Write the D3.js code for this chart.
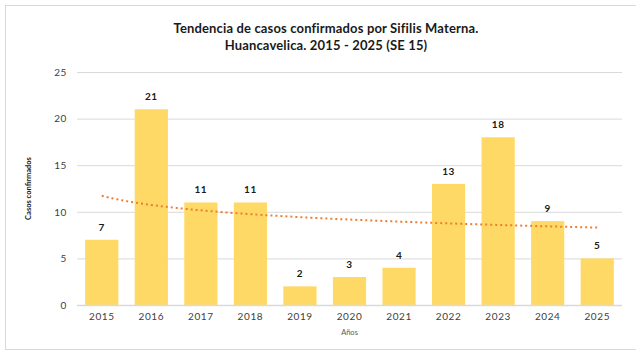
<!DOCTYPE html>
<html>
<head>
<meta charset="utf-8">
<script src="https://cdn.jsdelivr.net/npm/d3@7"></script>
<style>
  html, body { margin: 0; padding: 0; background: #fff; }
  svg { display: block; font-family: Lato, "Open Sans", "Liberation Sans", sans-serif; }
</style>
</head>
<body>
<svg id="chart" width="636" height="352"></svg>
<script>
// Confirmed maternal syphilis cases per year
const years = ["2015", "2016", "2017", "2018", "2019", "2020", "2021", "2022", "2023", "2024", "2025"];
const cases = [7, 21, 11, 11, 2, 3, 4, 13, 18, 9, 5];
const yTicks = [0, 5, 10, 15, 20, 25];

const svg = d3.select("#chart");
const W = 636, H = 352;
const m = { left: 77, right: 14, top: 72, bottom: 47 };

// outer frame
svg.append("rect")
  .attr("x", 5.5).attr("y", 5.5)
  .attr("width", 640).attr("height", 344)
  .attr("fill", "#fff").attr("stroke", "#d9d9d9").attr("stroke-width", 1);

const x = d3.scaleBand().domain(years).range([m.left, W - m.right]).paddingInner(0.33).paddingOuter(0.165);
const y = d3.scaleLinear().domain([0, 25]).range([H - m.bottom, m.top]);

// title
const title = svg.append("text")
  .attr("x", 326).attr("text-anchor", "middle")
  .attr("font-weight", "bold").attr("font-size", 13).attr("fill", "#1a1a1a")
  .attr("letter-spacing", 0.15);
title.append("tspan").attr("x", 326).attr("y", 33).text("Tendencia de casos confirmados por Sifilis Materna.");
title.append("tspan").attr("x", 326).attr("y", 50).text("Huancavelica. 2015 - 2025 (SE 15)");

// horizontal gridlines + y tick labels
const yAxis = d3.axisLeft(y).tickValues(yTicks).tickSize(-(W - m.right - m.left)).tickPadding(10);
const gy = svg.append("g").attr("transform", `translate(${m.left},0)`).call(yAxis);
gy.select(".domain").remove();
gy.selectAll(".tick line").attr("stroke", "#d9d9d9").attr("stroke-width", 1);
gy.selectAll(".tick text").attr("fill", "#404040").attr("font-size", 10)
  .attr("font-family", "Lato, sans-serif").attr("letter-spacing", 0.6);

// bars
svg.append("g").selectAll("rect").data(years).join("rect")
  .attr("x", d => x(d))
  .attr("y", (d, i) => y(cases[i]))
  .attr("width", x.bandwidth())
  .attr("height", (d, i) => y(0) - y(cases[i]))
  .attr("fill", "#ffd966");

// baseline
svg.append("line")
  .attr("x1", m.left).attr("x2", W - m.right)
  .attr("y1", y(0) + 0.5).attr("y2", y(0) + 0.5)
  .attr("stroke", "#d9d9d9").attr("stroke-width", 1.5);

// x axis labels
const xAxis = d3.axisBottom(x).tickSize(0).tickPadding(8);
const gx = svg.append("g").attr("transform", `translate(0,${y(0)})`).call(xAxis);
gx.select(".domain").remove();
gx.selectAll(".tick text").attr("fill", "#404040").attr("font-size", 10)
  .attr("font-family", "Lato, sans-serif").attr("letter-spacing", 0.6);

// value labels
svg.append("g").selectAll("text").data(years).join("text")
  .attr("x", d => x(d) + x.bandwidth() / 2)
  .attr("y", (d, i) => y(cases[i]) - 9)
  .attr("text-anchor", "middle")
  .attr("font-size", 10).attr("font-weight", "bold").attr("fill", "#1a1a1a")
  .attr("letter-spacing", 0.5)
  .text((d, i) => cases[i]);

// logarithmic trendline fitted to the yearly counts
const lx = years.map((d, i) => Math.log(i + 1));
const mx = d3.mean(lx), my = d3.mean(cases);
const b = d3.sum(lx, (v, i) => (v - mx) * (cases[i] - my)) / d3.sum(lx, v => (v - mx) * (v - mx));
const a = my - b * mx;
const trendPts = d3.range(0, years.length - 1 + 0.001, 0.1).map(t => {
  const cx = x(years[0]) + x.bandwidth() / 2 + t * x.step();
  return [cx, y(a + b * Math.log(t + 1))];
});
svg.append("path")
  .attr("d", d3.line()(trendPts))
  .attr("fill", "none").attr("stroke", "#ed7d31")
  .attr("stroke-width", 2).attr("stroke-dasharray", "2,3");

// axis titles
svg.append("text")
  .attr("transform", `translate(31,${(y(0) + y(25)) / 2}) rotate(-90)`)
  .attr("text-anchor", "middle").attr("font-size", 7.5).attr("font-weight", "bold").attr("fill", "#1a1a1a")
  .text("Casos  confirmados");
svg.append("text")
  .attr("x", (m.left + W - m.right) / 2).attr("y", 335)
  .attr("text-anchor", "middle").attr("font-size", 7.5).attr("fill", "#595959")
  .text("Años");
</script>
</body>
</html>
